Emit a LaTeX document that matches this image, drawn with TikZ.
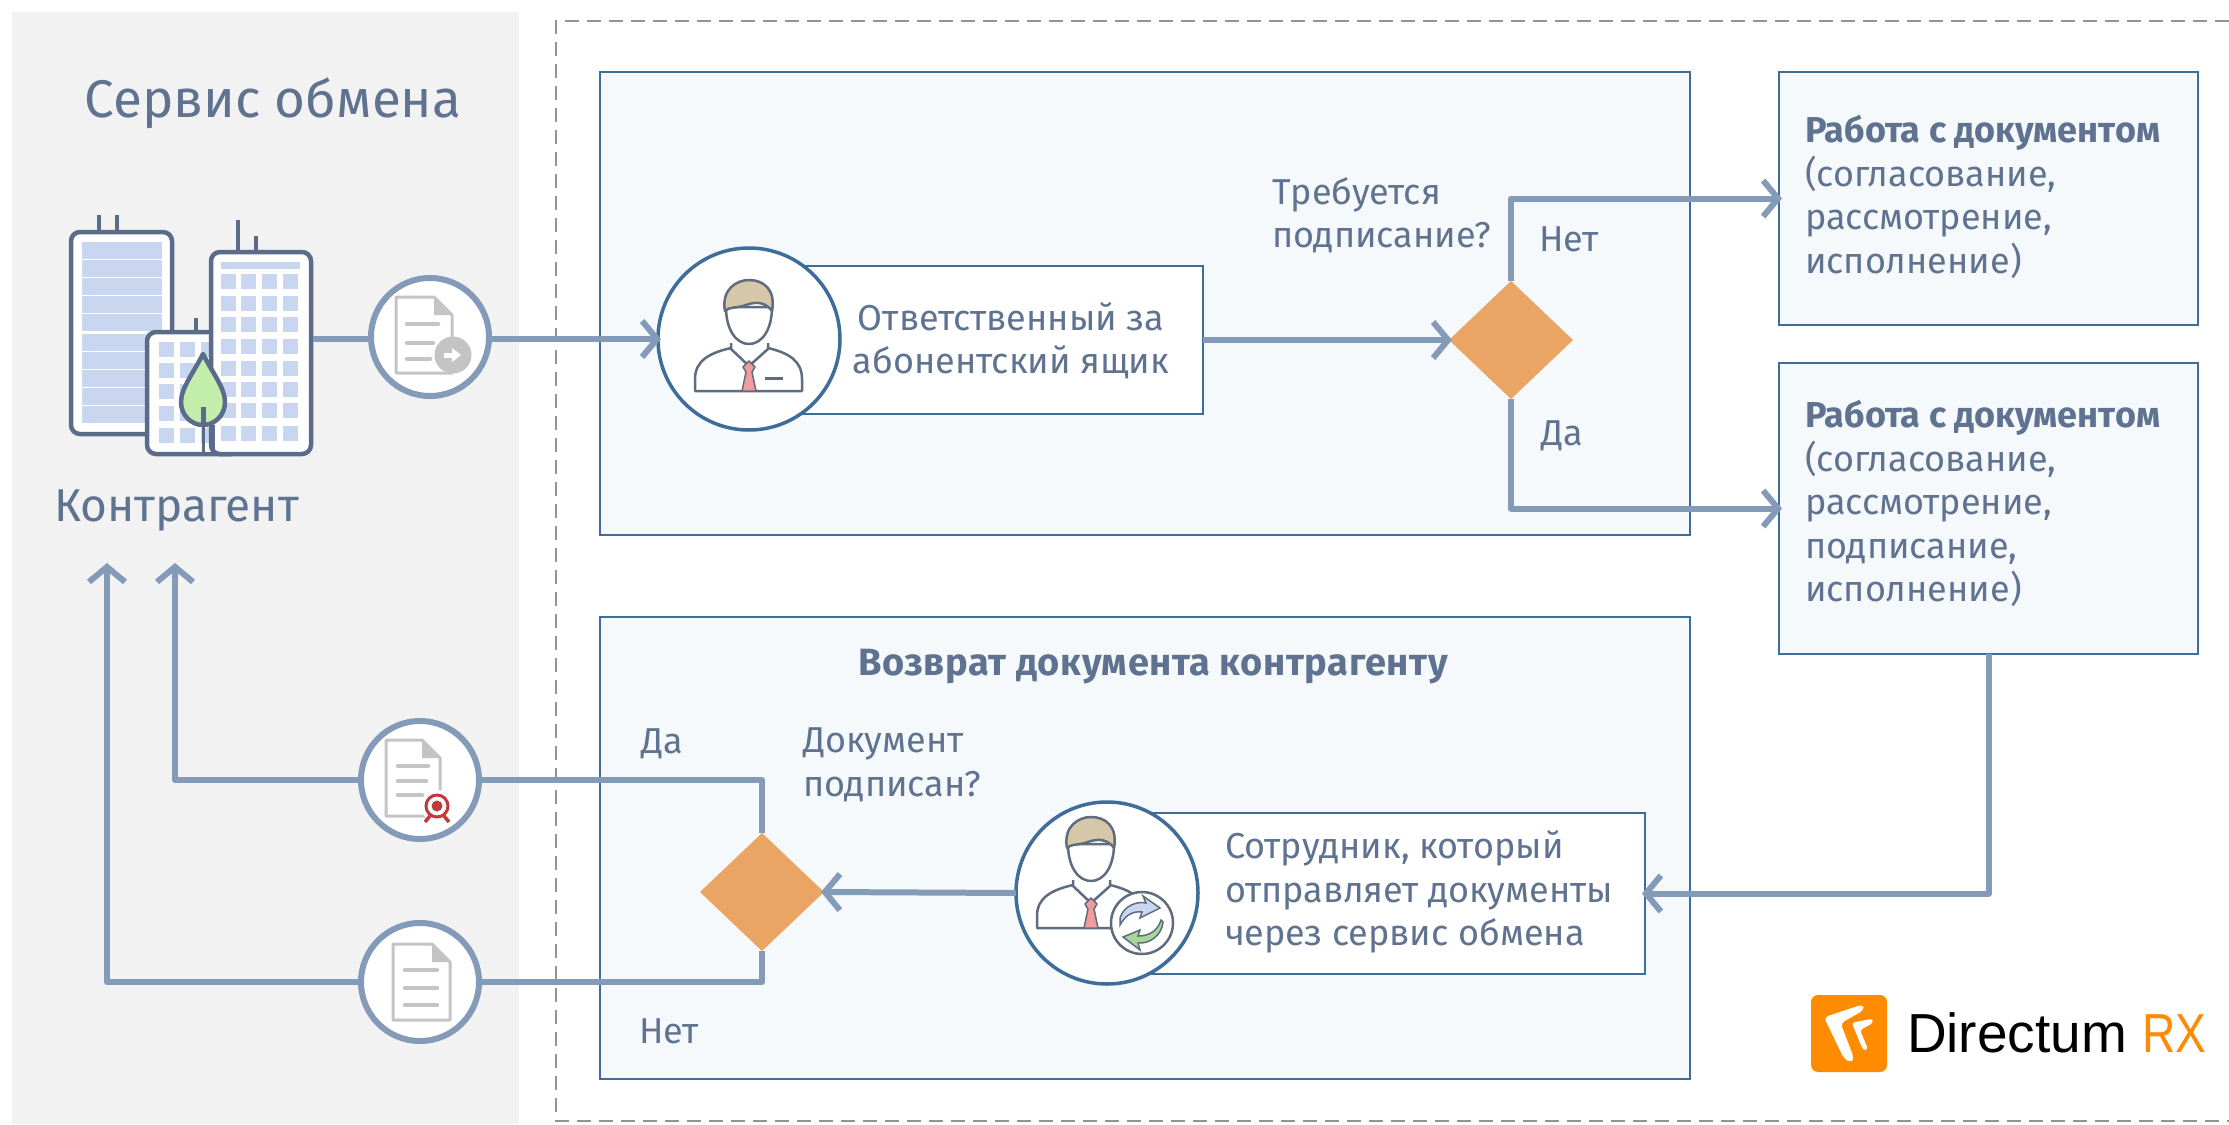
\documentclass[tikz,border=0pt]{standalone}
\usepackage{fontspec}
\setmainfont{Fira Sans}
\newfontfamily\logofont{Liberation Sans}
\usetikzlibrary{shapes.geometric,arrows.meta}
\definecolor{inkc}{HTML}{5F7290}
\definecolor{linec}{HTML}{839AB8}
\definecolor{edgec}{HTML}{3F6D99}
\definecolor{boxf}{HTML}{F5F9FC}
\definecolor{panelc}{HTML}{F2F2F2}
\definecolor{orangec}{HTML}{EAA564}
\definecolor{logoc}{HTML}{FF8C00}
\definecolor{bldc}{HTML}{5A6C8A}
\definecolor{winc}{HTML}{C8D6F0}
\definecolor{docc}{HTML}{C4C4C4}
\definecolor{personc}{HTML}{5F6C80}
\definecolor{leafc}{HTML}{C3EDAB}
\definecolor{sealc}{HTML}{C0393B}
\definecolor{hairc}{HTML}{D6C7A8}
\definecolor{tiec}{HTML}{F29A9C}
\definecolor{swapc}{HTML}{A9D69A}
\tikzset{
  txt/.style={font=\fontsize{36}{43.5}\selectfont,text=inkc,inner sep=0pt,outer sep=0pt,align=left,anchor=west},
  panelbox/.style={draw=edgec,line width=2.5pt,fill=boxf,inner sep=0pt,outer sep=0pt,anchor=north west},
  whitebox/.style={panelbox,fill=white},
  decis/.style={diamond,fill=orangec,minimum width=124pt,minimum height=118pt,inner sep=0pt,outer sep=0pt},
  roundel/.style={circle,draw=linec,line width=6pt,fill=white,minimum size=118pt,inner sep=0pt,outer sep=0pt},
  personring/.style={circle,draw=edgec,line width=3.5pt,fill=white,minimum size=182pt,inner sep=0pt,outer sep=0pt},
  conn/.style={draw=linec,line width=6pt,line join=round},
  arrowed/.style={conn,shorten >=-3pt,-{Straight Barb[length=15pt,width=36pt,line width=6pt]}},
  docline/.style={draw=docc,line width=4.5pt,line cap=round},
  bld/.style={draw=bldc,line width=4.5pt,rounded corners=9pt,fill=white},
  docpic/.pic={
    \draw[draw=docc,line width=3pt,line join=round,fill=white] (0,0) -- (#1-18,0) -- (#1,18) -- (#1,76) -- (0,76) -- cycle;
    \fill[docc] (#1-18,0) -- (#1,18) -- (#1-18,18) -- cycle;
  },
  personpic/.pic={
    \begin{scope}[draw=personc,line width=2.5pt,line join=round]
      \draw[fill=white] (-54,52) -- (-54,40) .. controls (-54,22) and (-40,14) .. (-18,9) -- (19,9) .. controls (40,14) and (53,22) .. (53,40) -- (53,52) -- cycle;
      \draw[fill=white] (-18,4) -- (-18,10) -- (0,27) -- (19,10) -- (19,4);
      \draw[fill=white] (-23,-32) .. controls (-23,-8) and (-12,5) .. (0,5) .. controls (12,5) and (23,-8) .. (23,-32) -- cycle;
      \draw[fill=hairc] (-24,-28) .. controls (-28,-50) and (-12,-59) .. (0,-59) .. controls (14,-59) and (27,-50) .. (23,-28) .. controls (14,-40) and (2,-36) .. (-6,-33) .. controls (-14,-31) and (-20,-32) .. (-24,-28) -- cycle;
      \fill[tiec,draw=personc,line width=1.5pt] (0,22) -- (6,28) -- (3,33) -- (7,52) -- (-7,52) -- (-3,33) -- (-6,28) -- cycle;
    \end{scope}
  },
}
\begin{document}
\begin{tikzpicture}[x=1pt,y=-1pt]
\useasboundingbox (0,0) rectangle (2229,1124);
\fill[white] (0,0) rectangle (2229,1124);
% exchange-service panel and dashed border
\fill[panelc] (12,12) rectangle (519,1124);
\draw[draw=gray!85,line width=2.5pt,dash pattern=on 14pt off 8pt] (2229,21) -- (556,21) -- (556,1121) -- (2229,1121);

% panels
\node[panelbox,minimum width=1090pt,minimum height=463pt] (top) at (600,72) {};
\node[panelbox,minimum width=1090pt,minimum height=462pt] (bottom) at (600,617) {};
\node[panelbox,minimum width=419pt,minimum height=253pt] (boxA) at (1779,72) {};
\node[panelbox,minimum width=419pt,minimum height=291pt] (boxB) at (1779,363) {};
\node[whitebox,minimum width=454pt,minimum height=148pt] (respbox) at (749,266) {};
\node[whitebox,minimum width=538pt,minimum height=161pt] (sendbox) at (1107,813) {};

% buildings
\begin{scope}
  \draw[bldc,line width=4.5pt] (99,215) -- (99,232) (117,215) -- (117,232) (238,220) -- (238,252) (256,236) -- (256,252) (196,318) -- (196,332);
  \draw[bld] (71,232) rectangle (172,434);
  \foreach \yy in {242,260,278,296,314,334,352,370,388,406}
    \fill[winc] (82,\yy) rectangle (162,\yy+16.5);
  \draw[bld] (147,332) rectangle (240,454);
  \foreach \yy in {342,363,384,406,428} \foreach \xx in {159,180,201}
    \fill[winc] (\xx,\yy) rectangle (\xx+15,\yy+15);
  \draw[bld] (211,252) rectangle (311,454);
  \fill[winc] (221,262) rectangle (300,269);
  \foreach \yy in {274,296,317,339,361,382,403,426} \foreach \xx in {221,241,262,283}
    \fill[winc] (\xx,\yy) rectangle (\xx+15,\yy+15);
  \draw[bldc,line width=3pt] (203,425) -- (203,452) (213,425) -- (213,452);
  \draw[bldc,line width=4.5pt,fill=leafc,line join=round] (203,354) .. controls (194,372) and (181,388) .. (181,402) .. controls (181,416) and (192,425) .. (203,425) .. controls (214,425) and (225,416) .. (225,402) .. controls (225,388) and (212,372) .. (203,354) -- cycle;
  \draw[bldc,line width=5pt] (203,407) -- (203,426);
\end{scope}

% texts
\node[txt,anchor=center,font=\fontsize{53}{60}\selectfont] (title) at (273,103) {Сервис обмена};
\node[txt,font=\fontsize{46}{52}\selectfont] (kontr) at (54,511) {Контрагент};
\node[txt] (ask1) at (1272,215) {Требуется\\подписание?};
\node[txt] (no1) at (1539,239.5) {Нет};
\node[txt] (yes1) at (1541,436) {Да};
\node[txt,anchor=center,align=center] (resp) at (1011,341) {Ответственный за\\абонентский ящик};
\node[txt] (workA) at (1805,197) {\textbf{Работа с документом}\\(согласование,\\рассмотрение,\\исполнение)};
\node[txt] (workB) at (1805,503.5) {\textbf{Работа с документом}\\(согласование,\\рассмотрение,\\подписание,\\исполнение)};
\node[txt,anchor=center,font=\bfseries\fontsize{38}{43.5}\selectfont\addfontfeature{LetterSpace=1.5}] (back) at (1153,667) {Возврат документа контрагенту};
\node[txt] (yes2) at (641,744) {Да};
\node[txt] (ask2) at (803,765) {Документ\\подписан?};
\node[txt] (no2) at (639,1031) {Нет};
\node[txt] (send) at (1225,892) {Сотрудник, который\\отправляет документы\\через сервис обмена};

% logo
\fill[logoc,rounded corners=7pt] (1811,995) rectangle (1887,1072);
\begin{scope}[shift={(1780,960)},x=0.3333pt,y=-0.3333pt]
  \fill[white,rounded corners=4pt] (132,172) -- (248,133) -- (252,150) -- (182,190) -- (222,295) -- (212,308) -- (192,296) -- cycle;
  \fill[white,rounded corners=3pt] (215,188) -- (278,176) -- (278,190) -- (240,210) -- (264,268) -- (250,272) -- cycle;
\end{scope}
\node[inner sep=0pt,outer sep=0pt,anchor=west,font=\logofont\fontsize{55}{60}\selectfont] (logo) at (1907,1033) {Directum\hspace{15pt}\textcolor{logoc}{\scalebox{0.84}[1]{RX}}};

% circles and decisions
\node[personring] (p1) at (749,339) {};
\node[personring] (p2) at (1107,893) {};
\node[decis] (d1) at (1511,340) {};
\node[decis] (d2) at (762,892) {};
\node[roundel] (c1) at (430,337) {};
\node[roundel] (c2) at (420,780) {};
\node[roundel] (c3) at (420,982) {};

% person icons
\pic at (p1.center) {personpic};
\draw[personc,line width=3pt] (765,378) -- (783,378);
\pic at ([xshift=-16pt,yshift=17pt]p2.center) {personpic};
\draw[personc,line width=2.5pt,fill=white] (1142,923) circle (31);
\draw[personc,line width=1.5pt,fill=winc] (1120,918) .. controls (1124,905) and (1138,901) .. (1146,903) -- (1143,896) -- (1160,908) -- (1140,918) -- (1142,912) .. controls (1134,911) and (1126,914) .. (1120,925) -- cycle;
\draw[personc,line width=1.5pt,fill=swapc] (1163,922) .. controls (1162,935) and (1150,944) .. (1138,943) -- (1140,950) -- (1123,937) -- (1140,930) -- (1138,936) .. controls (1150,936) and (1158,930) .. (1161,920) -- cycle;

% document icons
\pic at (396,297) {docpic=56};
\draw[docline] (407,324) -- (438,324) (407,343) -- (433,343) (407,359) -- (430,359);
\fill[docc] (453,355) circle (18.5);
\fill[white] (444,352.5) rectangle (452,357.5);
\fill[white] (452,348) -- (461,355) -- (452,362) -- cycle;
\pic at (386,740) {docpic=54};
\draw[docline] (398,766) -- (428,766) (398,781) -- (426,781) (398,795) -- (422,795);
\fill[white] (437,806) circle (16);
\draw[sealc,line width=3pt,fill=white] (437,806) circle (11);
\fill[sealc] (437,806) circle (5.5);
\draw[sealc,line width=3.5pt] (430,816) -- (425,822) (444,816) -- (449,822);
\pic at (393,944) {docpic=57};
\draw[docline] (405,970) -- (437,970) (405,988) -- (437,988) (405,1005) -- (437,1005);

% connectors
\coordinate (bldg) at (313,339);
\coordinate (kt1) at (175,566);
\coordinate (kt2) at (107,566);
\draw[conn] (bldg) -- (c1.west |- bldg);
\draw[arrowed] (c1.east |- p1.west) -- (p1.west);
\draw[arrowed] (respbox.east |- d1.west) -- (d1.west);
\draw[arrowed] (d1.north) |- (boxA.west);
\draw[arrowed] (d1.south) |- (boxB.west);
\draw[arrowed] (boxB.south) |- (sendbox.east);
\draw[arrowed] (p2.west) -- (d2.east);
\draw[conn] (d2.north) |- (c2.east);
\draw[conn] (d2.south) |- (c3.east);
\draw[arrowed] (c2.west) -| (kt1);
\draw[arrowed] (c3.west) -| (kt2);
\end{tikzpicture}
\end{document}
